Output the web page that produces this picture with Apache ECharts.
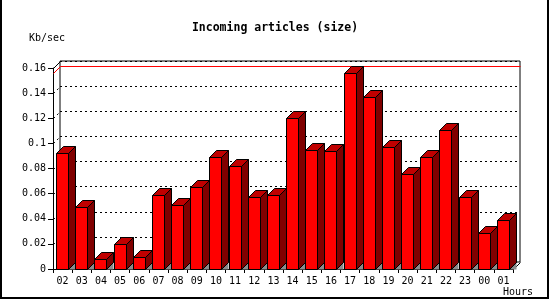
<!DOCTYPE html>
<html><head><meta charset="utf-8">
<script src="https://cdn.jsdelivr.net/npm/echarts@6/dist/echarts.min.js"></script>
<style>html,body{margin:0;padding:0;background:#fff}#c{width:550px;height:300px}</style>
</head><body><div id="c"></div>
<script>
const hours = ['02','03','04','05','06','07','08','09','10','11','12','13','14','15','16','17','18','19','20','21','22','23','00','01'];
const sizeKbps = [0.0923,0.0493,0.0080,0.0199,0.0095,0.0588,0.0509,0.0654,0.0890,0.0819,0.0572,0.0588,0.1200,0.0948,0.0938,0.1558,0.1372,0.0975,0.0755,0.0890,0.1105,0.0572,0.0286,0.0389];
const yMin = 0, yMax = 0.16, yStep = 0.02;
const gridTicks = [0.02,0.04,0.06,0.08,0.10,0.12,0.14];
const titleText = 'Incoming articles (size)';
const yUnit = 'Kb/sec';
const xUnit = 'Hours';

const D = 7;          // 3D depth offset (px)
const FONT = '"DejaVu Sans Mono", "Liberation Mono", monospace';
const maxVal = Math.max.apply(null, sizeKbps);

const chart = echarts.init(document.getElementById('c'), null, {renderer: 'canvas'});
const px = v => Math.round(v) + 0.5;

function renderBar(params, api) {
  const i = api.value(0), v = api.value(1);
  const base = api.coord([i, 0]);
  const top = api.coord([i, v]);
  const bw = 12;
  const xl = px(base[0] - bw / 2 - 0.5);
  const xr = xl + bw;
  const yb = px(base[1]);
  const yt = px(top[1]);
  const stroke = {stroke: '#000', lineWidth: 1};
  return {
    type: 'group',
    children: [
      {type: 'polygon', shape: {points: [[xr, yb], [xr + D, yb - D], [xr + D, yb]]}, style: {fill: '#8c8c8c'}},
      {type: 'polygon', shape: {points: [[xr, yt], [xr + D, yt - D], [xr + D, yb - D], [xr, yb]]}, style: Object.assign({fill: '#800000'}, stroke)},
      {type: 'polygon', shape: {points: [[xl, yt], [xl + D, yt - D], [xr + D, yt - D], [xr, yt]]}, style: Object.assign({fill: '#c00000'}, stroke)},
      {type: 'rect', shape: {x: xl, y: yt, width: bw, height: yb - yt}, style: Object.assign({fill: '#ff0000'}, stroke)}
    ]
  };
}

function renderFrame(params, api) {
  const band = api.size([1, 0])[0];
  const x0 = Math.round(api.coord([0, 0])[0] - band / 2) + 0.5;
  const x1 = Math.round(api.coord([hours.length - 1, 0])[0] + band / 2) + 0.5;
  const yb = px(api.coord([0, yMin])[1]);
  const ytop = px(api.coord([0, yMax])[1]);
  const ymax = px(api.coord([0, maxVal])[1]);
  const children = [];
  gridTicks.forEach(t => {
    const y = px(api.coord([0, t])[1]);
    children.push({type: 'line', shape: {x1: x0, y1: y, x2: x0 + D, y2: y - D}, style: {stroke: '#000', lineWidth: 1, lineDash: [2, 3]}});
  });
  children.push({type: 'line', shape: {x1: x0, y1: ytop, x2: x0 + D, y2: ytop - D}, style: {stroke: '#000', lineWidth: 1}});
  children.push({type: 'line', shape: {x1: x1, y1: yb, x2: x1 + D, y2: yb - D}, style: {stroke: '#000', lineWidth: 1}});
  children.push({type: 'polyline', shape: {points: [[x0, ymax], [x0 + D, ymax - D], [x1 + D, ymax - D]]}, style: {stroke: '#ff0000', lineWidth: 1, fill: null}});
  return {type: 'group', children: children};
}

const option = {
  animation: false,
  backgroundColor: '#fff',
  grid: [
    {left: 53, top: 68, width: 460, height: 201, containLabel: false},
    {left: 60, top: 61, width: 460, height: 201, show: true, borderColor: '#000', borderWidth: 1, backgroundColor: 'transparent'}
  ],
  xAxis: [
    {type: 'category', gridIndex: 0, data: hours, boundaryGap: true,
     axisLine: {show: true, lineStyle: {color: '#000', width: 1}},
     axisTick: {show: true, length: 4, interval: 0, lineStyle: {color: '#000'}},
     axisLabel: {interval: 0, margin: 7, color: '#000', fontFamily: FONT, fontSize: 10},
     splitLine: {show: false}},
    {type: 'category', gridIndex: 1, data: hours, show: false}
  ],
  yAxis: [
    {type: 'value', gridIndex: 0, min: yMin, max: yMax, interval: yStep,
     axisLine: {show: true, lineStyle: {color: '#000', width: 1}},
     axisTick: {show: true, length: 5, lineStyle: {color: '#000'}},
     axisLabel: {margin: 7, color: '#000', fontFamily: FONT, fontSize: 10},
     splitLine: {show: false}},
    {type: 'value', gridIndex: 1, min: yMin, max: yMax, interval: yStep,
     axisLine: {show: false}, axisTick: {show: false}, axisLabel: {show: false},
     splitLine: {show: true, lineStyle: {color: '#000', width: 1, type: [2, 3]}}}
  ],
  series: [
    {type: 'custom', name: 'frame', xAxisIndex: 0, yAxisIndex: 0, data: [[0, 0]], renderItem: renderFrame, z: 3, silent: true},
    {type: 'custom', name: 'size', xAxisIndex: 0, yAxisIndex: 0, data: sizeKbps.map((v, i) => [i, v]), renderItem: renderBar, z: 5, silent: true}
  ],
  graphic: [
    {type: 'polyline', shape: {points: [[1, 0], [1, 298], [548, 298], [548, 0]]}, style: {stroke: '#000', lineWidth: 2, fill: null}, z: 10},
    {type: 'text', x: 275, y: 28, style: {text: titleText, font: 'bold 11.5px ' + FONT, fill: '#000', align: 'center', verticalAlign: 'middle'}},
    {type: 'text', x: 47, y: 38, style: {text: yUnit, font: '10px ' + FONT, fill: '#000', align: 'center', verticalAlign: 'middle'}},
    {type: 'text', x: 518, y: 292, style: {text: xUnit, font: '10px ' + FONT, fill: '#000', align: 'center', verticalAlign: 'middle'}}
  ]
};
chart.setOption(option);
</script>
</body></html>
